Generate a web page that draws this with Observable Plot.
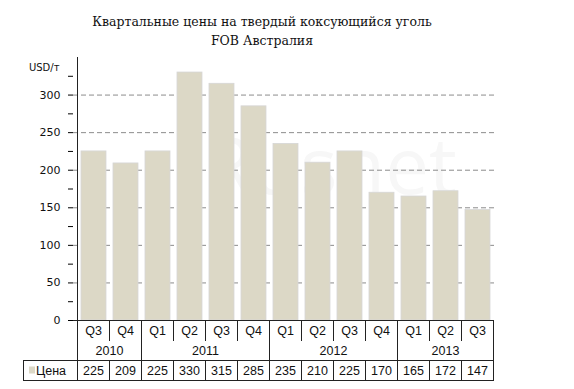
<!DOCTYPE html>
<html>
<head>
<meta charset="utf-8">
<script src="https://cdn.jsdelivr.net/npm/d3@7"></script>
<script src="https://cdn.jsdelivr.net/npm/@observablehq/plot@0.6"></script>
<style>
  html, body { margin: 0; padding: 0; background: #fff; }
  svg { display: block; }
</style>
</head>
<body>
<div id="chart"></div>
<script>
const titleLines = ["Квартальные цены на твердый коксующийся уголь", "FOB Австралия"];
const unitLabel = "USD/т";
const seriesName = "Цена";
const quarters = ["Q3","Q4","Q1","Q2","Q3","Q4","Q1","Q2","Q3","Q4","Q1","Q2","Q3"];
const years = ["2010","2010","2011","2011","2011","2011","2012","2012","2012","2012","2013","2013","2013"];
const prices = [225, 209, 225, 330, 315, 285, 235, 210, 225, 170, 165, 172, 147];
const yTicks = d3.range(0, 326, 25);
const gridValues = d3.range(50, 301, 50);

const data = prices.map((v, i) => ({key: i, quarter: quarters[i], year: years[i], price: v}));

const barFill = "#dcd8c6";
const tickFont = "DejaVu Sans, sans-serif";
const tableFont = "Liberation Sans, Arial, sans-serif";

const chart = Plot.plot({
  width: 574,
  height: 389,
  marginLeft: 73,
  marginRight: 77,
  marginTop: 57,
  marginBottom: 69,
  style: {background: "#fff", fontFamily: tickFont},
  x: {type: "band", domain: data.map(d => d.key), paddingInner: 0.22, paddingOuter: 0.11, axis: null},
  y: {domain: [0, 350], axis: null},
  marks: [
    Plot.text(["Rusnet"], {frameAnchor: "middle", dx: 45, dy: -20, fontSize: 78, fill: "#f7f7f7", fontFamily: "Open Sans, sans-serif"}),
    Plot.ruleY(gridValues, {stroke: "#8c8c8c", strokeDasharray: "5,3", strokeWidth: 1}),
    Plot.barY(data, {x: "key", y: "price", fill: barFill, stroke: "#d6d6d6", strokeWidth: 0.8}),
    Plot.axisY(yTicks, {
      tickSize: 5, tickPadding: 8, label: null, stroke: "#000",
      tickFormat: d => d % 50 === 0 ? d : "",
      fontSize: 11, fill: "#111", fontFamily: tickFont
    })
  ]
});

document.getElementById("chart").appendChild(chart);

const svg = d3.select(chart);
const xs = chart.scale("x");
const ys = chart.scale("y");
const gap = (xs.step - xs.bandwidth) / 2;
const left = xs.apply(data[0].key) - gap;
const right = xs.apply(data[data.length - 1].key) + xs.bandwidth + gap;
const boundary = i => i < data.length ? xs.apply(data[i].key) - gap : right;
const center = i => xs.apply(data[i].key) + xs.bandwidth / 2;

const y0 = ys.apply(0);
const rowQ = [y0, y0 + 20.5];
const rowY = [y0 + 20.5, y0 + 40.5];
const rowD = [y0 + 40.5, y0 + 60.5];
const tableLeft = 23;

const g = svg.append("g").attr("stroke", "#222").attr("stroke-width", 1).attr("fill", "none").attr("shape-rendering", "crispEdges");
function line(x1, y1, x2, y2) { g.append("line").attr("x1", x1).attr("y1", y1).attr("x2", x2).attr("y2", y2); }

// axes lines
line(left, ys.apply(350), left, rowY[1]);
line(left - 5, y0, right, y0);
line(right, y0, right, rowD[1]);
// separators
for (let i = 1; i < data.length; i++) {
  const isYear = data[i].year !== data[i - 1].year;
  line(boundary(i), rowQ[0], boundary(i), isYear ? rowY[1] : rowQ[1]);
  line(boundary(i), rowD[0], boundary(i), rowD[1]);
}
// data row box
line(tableLeft, rowD[0], right, rowD[0]);
line(tableLeft, rowD[1], right, rowD[1]);
line(tableLeft, rowD[0], tableLeft, rowD[1]);
line(left, rowD[0], left, rowD[1]);

const tg = svg.append("g").attr("font-family", tableFont).attr("font-size", 12.5).attr("fill", "#111").attr("text-anchor", "middle");
data.forEach((d, i) => {
  tg.append("text").attr("x", center(i)).attr("y", (rowQ[0] + rowQ[1]) / 2).attr("dy", "0.36em").text(d.quarter);
  tg.append("text").attr("x", center(i)).attr("y", (rowD[0] + rowD[1]) / 2).attr("dy", "0.36em").text(d.price);
});
const yearGroups = d3.groups(data.map((d, i) => ({...d, i})), d => d.year);
yearGroups.forEach(([yr, items]) => {
  const x1 = boundary(items[0].i);
  const x2 = boundary(items[items.length - 1].i + 1);
  tg.append("text").attr("x", (x1 + x2) / 2).attr("y", (rowY[0] + rowY[1]) / 2).attr("dy", "0.36em").text(yr);
});
svg.append("rect").attr("x", 29).attr("y", rowD[0] + 6).attr("width", 6).attr("height", 7).attr("fill", barFill);
tg.append("text").attr("x", 36).attr("y", (rowD[0] + rowD[1]) / 2).attr("dy", "0.36em").attr("text-anchor", "start").text(seriesName);

svg.append("text").attr("x", left - 18).attr("y", 67).attr("dy", "0.36em").attr("text-anchor", "end")
  .attr("font-family", tickFont).attr("font-size", 10).attr("fill", "#111").text(unitLabel);

const tt = svg.append("g").attr("font-family", "DejaVu Serif, serif").attr("font-size", 12.5).attr("fill", "#111").attr("text-anchor", "middle");
titleLines.forEach((t, k) => tt.append("text").attr("x", 262).attr("y", 21 + k * 19).attr("dy", "0.36em").text(t));
</script>
</body>
</html>
